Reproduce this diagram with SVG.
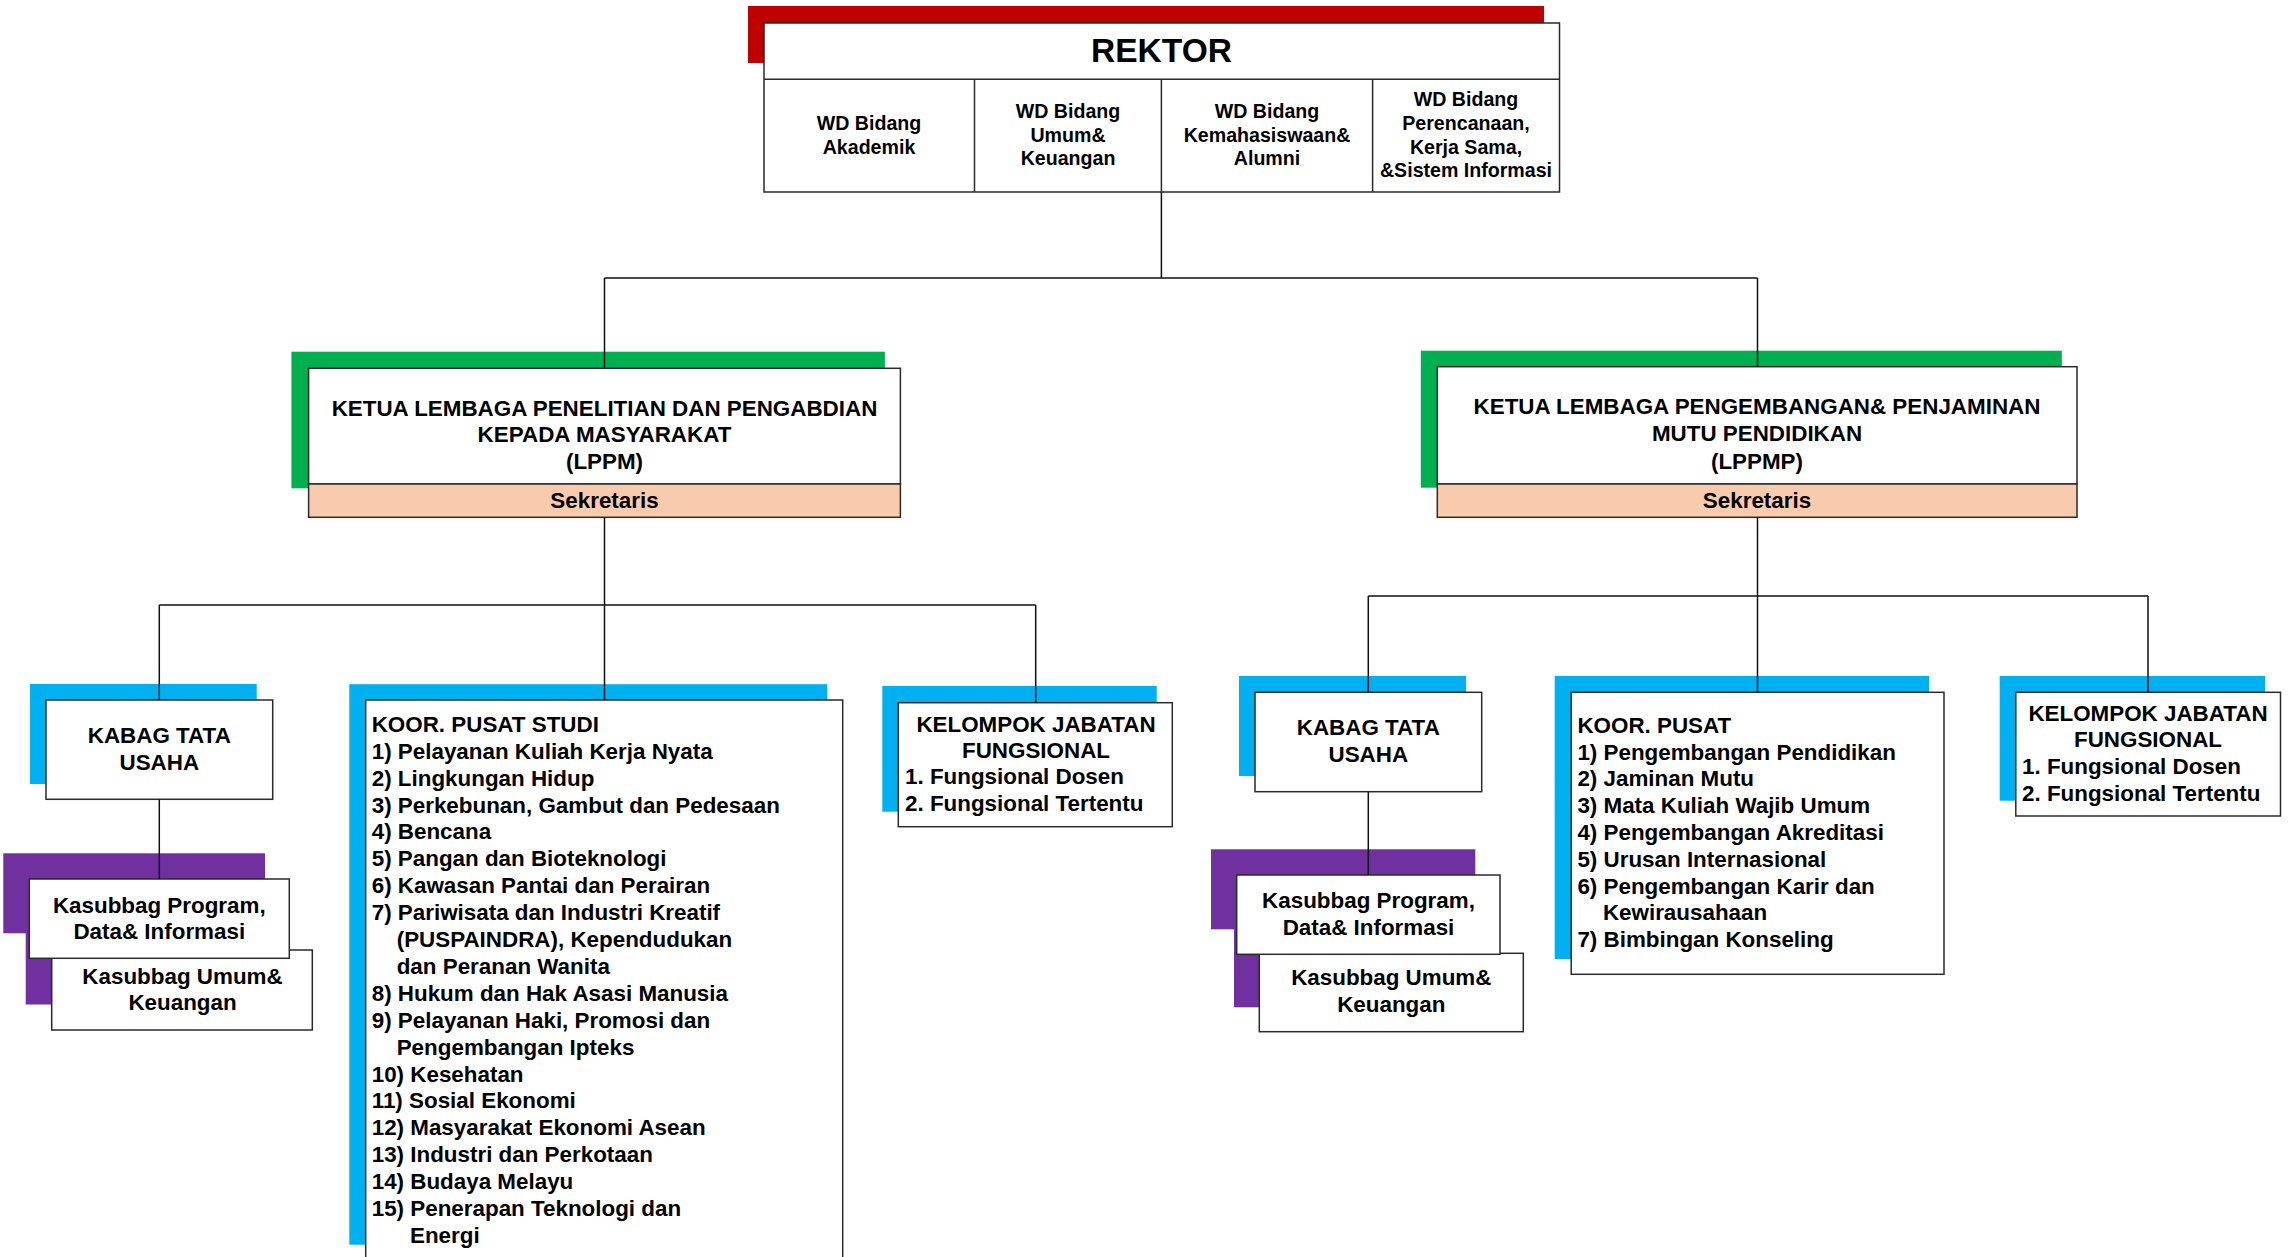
<svg xmlns="http://www.w3.org/2000/svg" width="2291" height="1257" viewBox="0 0 2291 1257">
  <style>
    text { font-family: "Liberation Sans", Arial, sans-serif; font-weight: bold; fill: #000; }
    .c { text-anchor: middle; }
    .box { fill: #fff; stroke: #2a2a2a; stroke-width: 1.5; }
    .sek { fill: #F8CBAD; stroke: #2a2a2a; stroke-width: 1.5; }
    .red { fill: #C00000; }
    .green { fill: #00B050; }
    .cyan { fill: #00B0F0; }
    .purple { fill: #7030A0; }
    .div { stroke: #2a2a2a; stroke-width: 1.5; fill: none; }
    .f22 { font-size: 22.4px; }
    .f19 { font-size: 19.6px; }
    #connectors path { stroke: #111; stroke-width: 1.5; fill: none; }
  </style>
  <rect width="2291" height="1257" fill="#fff"/>

  <!-- Rector with vice rectors -->
  <g id="rektor">
    <rect class="red" x="748" y="6" width="796" height="57"/>
    <rect class="box" x="764" y="23" width="795.5" height="169"/>
    <path class="div" d="M764 79.3H1559.5M974.5 79.3V192M1161.4 79.3V192M1372.6 79.3V192"/>
    <text class="c" x="1161.5" y="61.5" font-size="33.5">REKTOR</text>
    <g class="f19">
      <text class="c" x="869" y="130">WD Bidang</text>
      <text class="c" x="869" y="154">Akademik</text>
      <text class="c" x="1068" y="118">WD Bidang</text>
      <text class="c" x="1068" y="141.5">Umum&amp;</text>
      <text class="c" x="1068" y="165">Keuangan</text>
      <text class="c" x="1267" y="118">WD Bidang</text>
      <text class="c" x="1267" y="141.5">Kemahasiswaan&amp;</text>
      <text class="c" x="1267" y="165">Alumni</text>
      <text class="c" x="1466" y="106">WD Bidang</text>
      <text class="c" x="1466" y="130">Perencanaan,</text>
      <text class="c" x="1466" y="154">Kerja Sama,</text>
      <text class="c" x="1466" y="177">&amp;Sistem Informasi</text>
    </g>
  </g>

  <!-- LPPM -->
  <g id="lppm">
    <rect class="green" x="291.4" y="351.7" width="593.5" height="136.6"/>
    <rect class="box" x="308.6" y="368.3" width="591.8" height="115.7"/>
    <rect class="sek" x="308.6" y="484" width="591.8" height="33.3"/>
    <g class="f22">
      <text class="c" x="604.5" y="416">KETUA LEMBAGA PENELITIAN DAN PENGABDIAN</text>
      <text class="c" x="604.5" y="442">KEPADA MASYARAKAT</text>
      <text class="c" x="604.5" y="469">(LPPM)</text>
      <text class="c" x="604.5" y="507.5">Sekretaris</text>
    </g>
  </g>

  <!-- LPPMP -->
  <g id="lppmp">
    <rect class="green" x="1420.8" y="350.7" width="641" height="137"/>
    <rect class="box" x="1437.3" y="366.7" width="639.7" height="117.3"/>
    <rect class="sek" x="1437.3" y="484" width="639.7" height="33.3"/>
    <g class="f22">
      <text class="c" x="1757" y="414">KETUA LEMBAGA PENGEMBANGAN&amp; PENJAMINAN</text>
      <text class="c" x="1757" y="441">MUTU PENDIDIKAN</text>
      <text class="c" x="1757" y="469">(LPPMP)</text>
      <text class="c" x="1757" y="507.5">Sekretaris</text>
    </g>
  </g>

  <!-- LPPM: Kabag Tata Usaha -->
  <g id="kabag-lppm">
    <rect class="cyan" x="30" y="684" width="226.7" height="100"/>
    <rect class="box" x="46" y="700" width="226.7" height="99.3"/>
    <text class="c f22" x="159.3" y="743.3">KABAG TATA</text>
    <text class="c f22" x="159.3" y="770">USAHA</text>
  </g>

  <!-- LPPM: Kasubbag Umum & Keuangan -->
  <g id="kasubbag-umum-lppm">
    <rect class="purple" x="25.7" y="924" width="260.6" height="80.5"/>
    <rect class="box" x="51.7" y="950" width="260.6" height="80"/>
    <text class="c f22" x="182.5" y="984">Kasubbag Umum&amp;</text>
    <text class="c f22" x="182.5" y="1010">Keuangan</text>
  </g>

  <!-- LPPM: Kasubbag Program, Data & Informasi -->
  <g id="kasubbag-program-lppm">
    <rect class="purple" x="3.3" y="853.3" width="261.7" height="80"/>
    <rect class="box" x="29.3" y="879" width="260" height="79.3"/>
    <text class="c f22" x="159.3" y="912.7">Kasubbag Program,</text>
    <text class="c f22" x="159.3" y="939">Data&amp; Informasi</text>
  </g>

  <!-- LPPM: Koordinator Pusat Studi -->
  <g id="koor-pusat-studi">
    <rect class="cyan" x="349.3" y="684.2" width="478" height="560.5"/>
    <rect class="box" x="365.7" y="700" width="477" height="570"/>
    <g class="f22">
      <text x="371.7" y="731.8">KOOR. PUSAT STUDI</text>
      <text x="371.7" y="758.7">1) Pelayanan Kuliah Kerja Nyata</text>
      <text x="371.7" y="785.6">2) Lingkungan Hidup</text>
      <text x="371.7" y="812.5">3) Perkebunan, Gambut dan Pedesaan</text>
      <text x="371.7" y="839.4">4) Bencana</text>
      <text x="371.7" y="866.3">5) Pangan dan Bioteknologi</text>
      <text x="371.7" y="893.2">6) Kawasan Pantai dan Perairan</text>
      <text x="371.7" y="920.1">7) Pariwisata dan Industri Kreatif</text>
      <text x="396.7" y="947">(PUSPAINDRA), Kependudukan</text>
      <text x="396.7" y="973.9">dan Peranan Wanita</text>
      <text x="371.7" y="1000.8">8) Hukum dan Hak Asasi Manusia</text>
      <text x="371.7" y="1027.7">9) Pelayanan Haki, Promosi dan</text>
      <text x="396.7" y="1054.6">Pengembangan Ipteks</text>
      <text x="371.7" y="1081.5">10) Kesehatan</text>
      <text x="371.7" y="1108.4">11) Sosial Ekonomi</text>
      <text x="371.7" y="1135.3">12) Masyarakat Ekonomi Asean</text>
      <text x="371.7" y="1162.2">13) Industri dan Perkotaan</text>
      <text x="371.7" y="1189.1">14) Budaya Melayu</text>
      <text x="371.7" y="1216">15) Penerapan Teknologi dan</text>
      <text x="410" y="1242.9">Energi</text>
    </g>
  </g>

  <!-- LPPM: Kelompok Jabatan Fungsional -->
  <g id="kjf-lppm">
    <rect class="cyan" x="882.3" y="686" width="274.4" height="125.7"/>
    <rect class="box" x="898.3" y="702.7" width="274" height="124"/>
    <g class="f22">
      <text class="c" x="1036" y="731.7">KELOMPOK JABATAN</text>
      <text class="c" x="1036" y="758.3">FUNGSIONAL</text>
      <text x="905" y="784.3">1. Fungsional Dosen</text>
      <text x="905" y="810.7">2. Fungsional Tertentu</text>
    </g>
  </g>

  <!-- LPPMP: Kabag Tata Usaha -->
  <g id="kabag-lppmp">
    <rect class="cyan" x="1239" y="676" width="227" height="100"/>
    <rect class="box" x="1255" y="692.3" width="226.7" height="99.4"/>
    <text class="c f22" x="1368.3" y="735">KABAG TATA</text>
    <text class="c f22" x="1368.3" y="761.7">USAHA</text>
  </g>

  <!-- LPPMP: Kasubbag Umum & Keuangan -->
  <g id="kasubbag-umum-lppmp">
    <rect class="purple" x="1234" y="929" width="264" height="78.3"/>
    <rect class="box" x="1259.3" y="953.3" width="264" height="78.4"/>
    <text class="c f22" x="1391.3" y="985">Kasubbag Umum&amp;</text>
    <text class="c f22" x="1391.3" y="1011.7">Keuangan</text>
  </g>

  <!-- LPPMP: Kasubbag Program, Data & Informasi -->
  <g id="kasubbag-program-lppmp">
    <rect class="purple" x="1211" y="849.3" width="264.3" height="80"/>
    <rect class="box" x="1236.7" y="875" width="263.3" height="79.3"/>
    <text class="c f22" x="1368.5" y="908.3">Kasubbag Program,</text>
    <text class="c f22" x="1368.5" y="935">Data&amp; Informasi</text>
  </g>

  <!-- LPPMP: Koordinator Pusat -->
  <g id="koor-pusat">
    <rect class="cyan" x="1554.7" y="676" width="374.3" height="283"/>
    <rect class="box" x="1571.2" y="692.3" width="372.8" height="282"/>
    <g class="f22">
      <text x="1577.4" y="732.7">KOOR. PUSAT</text>
      <text x="1577.4" y="759.5">1) Pengembangan Pendidikan</text>
      <text x="1577.4" y="786.3">2) Jaminan Mutu</text>
      <text x="1577.4" y="813.1">3) Mata Kuliah Wajib Umum</text>
      <text x="1577.4" y="839.9">4) Pengembangan Akreditasi</text>
      <text x="1577.4" y="866.7">5) Urusan Internasional</text>
      <text x="1577.4" y="893.5">6) Pengembangan Karir dan</text>
      <text x="1602.9" y="920.3">Kewirausahaan</text>
      <text x="1577.4" y="947.1">7) Bimbingan Konseling</text>
    </g>
  </g>

  <!-- LPPMP: Kelompok Jabatan Fungsional -->
  <g id="kjf-lppmp">
    <rect class="cyan" x="1999.7" y="676" width="265.3" height="124.7"/>
    <rect class="box" x="2015.8" y="692.3" width="264.7" height="123.7"/>
    <g class="f22">
      <text class="c" x="2148" y="721">KELOMPOK JABATAN</text>
      <text class="c" x="2148" y="747.3">FUNGSIONAL</text>
      <text x="2022" y="774.3">1. Fungsional Dosen</text>
      <text x="2022" y="801">2. Fungsional Tertentu</text>
    </g>
  </g>

  <!-- Connectors -->
  <g id="connectors">
    <path d="M1161.4 192V278M604.5 278H1757.5M604.5 278V368.3M1757.5 278V366.7"/>
    <path d="M604.5 517.3V605M159.3 605H1035.7M159.3 605V700M604.5 605V700M1035.7 605V702.7"/>
    <path d="M159.3 799.3V879"/>
    <path d="M1757.5 517.3V596M1368.3 596H2148M1368.3 596V692.3M1757.5 596V692.3M2148 596V692.3"/>
    <path d="M1368.3 791.7V875"/>
  </g>
</svg>
